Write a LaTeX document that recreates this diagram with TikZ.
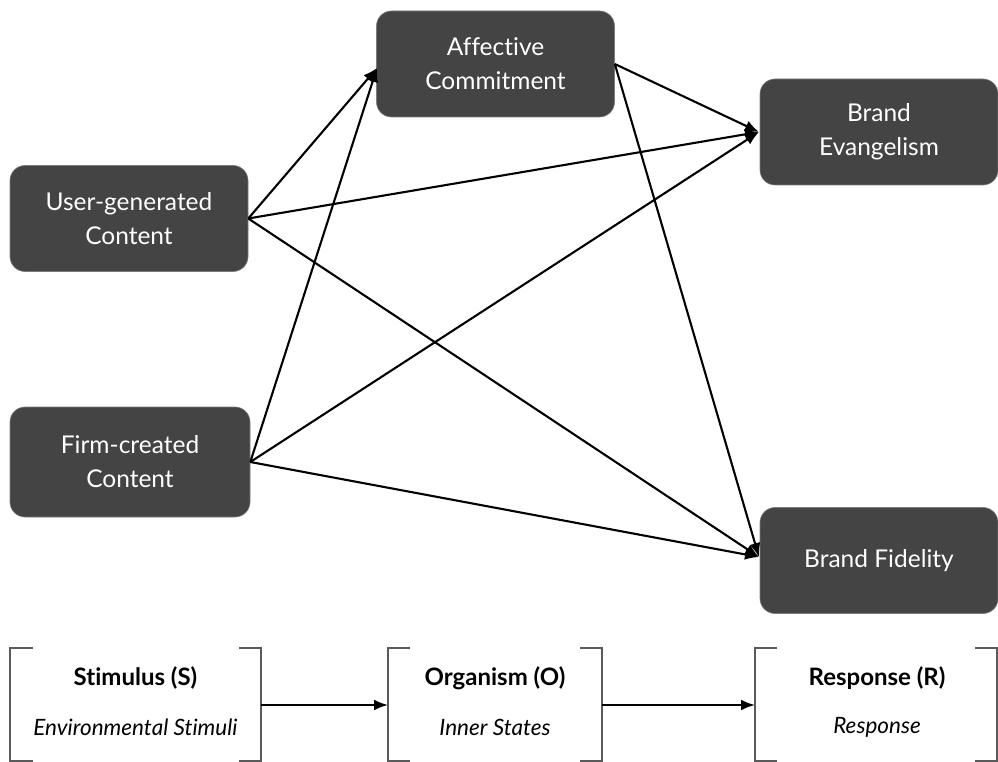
\documentclass[tikz,border=0pt]{standalone}
\usepackage{fontspec}
\setmainfont[Ligatures={NoCommon}]{Lato}
\usetikzlibrary{arrows.meta}
\definecolor{boxfill}{RGB}{68,68,68}
\definecolor{brk}{RGB}{90,90,90}
\begin{document}
\begin{tikzpicture}[x=1pt,y=-1pt,
  cbox/.style={draw=boxfill!70!white,line width=0.6pt,fill=boxfill,rounded corners=15pt,minimum width=238pt,minimum height=106pt,text=white,align=center,font=\fontsize{24.5}{34}\selectfont,inner sep=0pt},
  conn/.style={line width=2.1pt,-{Latex[length=14pt,width=11pt]}},
  brkline/.style={draw=brk,line width=1.2pt},
  ttl/.style={font=\fontsize{24}{28}\selectfont\bfseries},
  sub/.style={font=\fontsize{22.5}{26}\selectfont\itshape}]
\useasboundingbox (0,0) rectangle (998,762);
\node[cbox] (ac) at (495.5,64) {Affective\\Commitment};
\node[cbox] (ugc) at (129,218.5) {User-generated\\Content};
\node[cbox,minimum height=110pt,minimum width=240pt] (fcc) at (130,462) {Firm-created\\Content};
\node[cbox] (be) at (879,132) {Brand\\Evangelism};
\node[cbox] (bf) at (879,560.5) {Brand Fidelity};
\coordinate (acin) at (377,68);
\coordinate (bfin) at (759,557);
\coordinate (bein) at (759,132);
\draw[conn] (ugc.east) -- (acin);
\draw[conn] (fcc.east) -- (acin);
\draw[conn] (ugc.east) -- (bein);
\draw[conn] (fcc.east) -- (bein);
\draw[conn] (ac.east) -- (bein);
\draw[conn] (ac.east) -- (bfin);
\draw[conn] (ugc.east) -- (bfin);
\draw[conn] (fcc.east) -- (bfin);
% brackets
\draw[brkline] (33,648) -- (10,648) -- (10,761) -- (33,761);
\draw[brkline] (239,648) -- (261,648) -- (261,761) -- (239,761);
\draw[brkline] (410,648) -- (388,648) -- (388,761) -- (410,761);
\draw[brkline] (580,648) -- (602,648) -- (602,761) -- (580,761);
\draw[brkline] (777,648) -- (755,648) -- (755,761) -- (777,761);
\draw[brkline] (975,648) -- (997,648) -- (997,761) -- (975,761);
\node[ttl] (st) at (135.5,678) {Stimulus (S)};
\node[sub] (ss) at (135.5,727) {Environmental Stimuli};
\node[ttl] (ot) at (495,678) {Organism (O)};
\node[sub] (os) at (495,727) {Inner States};
\node[ttl] (rt) at (877,678) {Response (R)};
\node[sub] (rs) at (877,727) {Response};
\coordinate (s1) at (261,705);
\coordinate (o1) at (388,705);
\coordinate (o2) at (602,705);
\coordinate (r1) at (755,705);
\draw[conn] (s1) -- (o1);
\draw[conn] (o2) -- (r1);
\end{tikzpicture}
\end{document}
